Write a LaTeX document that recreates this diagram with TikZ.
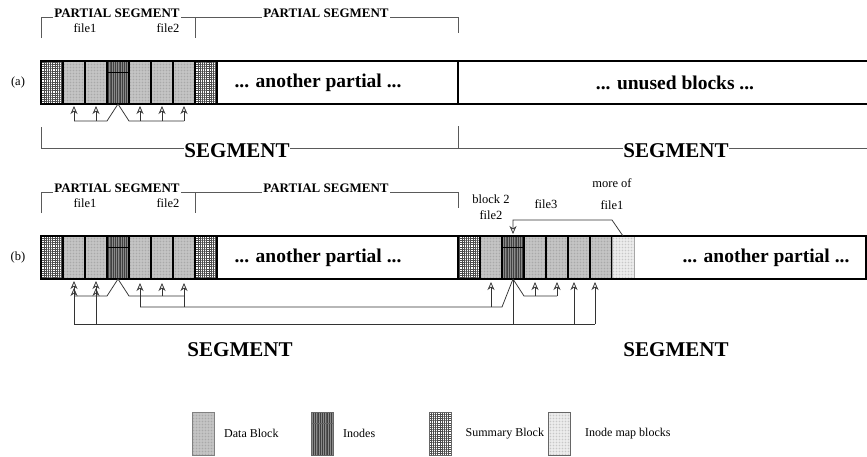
\documentclass[tikz,border=0pt]{standalone}
\usepackage{fontspec}
\setmainfont{Liberation Serif}
\usetikzlibrary{arrows.meta,positioning,patterns.meta,calc}
\definecolor{DataGray}{HTML}{C8C8C8}
\definecolor{InodeGray}{HTML}{8A8A8A}
\definecolor{MapGray}{HTML}{F2F2F2}
\definecolor{Wire}{HTML}{333333}
\definecolor{Bracket}{HTML}{5A5A5A}

\begin{document}
\begin{tikzpicture}[x=1pt,y=-1pt,
  blk/.style={draw,line width=1.2pt,minimum width=22pt,minimum height=43pt,inner sep=0pt,outer sep=0pt},
  datblk/.style={blk,preaction={fill=DataGray},pattern={Dots[distance=1.5pt,radius=0.4pt]},pattern color=black!40},
  inoblk/.style={blk,preaction={fill=InodeGray},pattern={Lines[angle=90,distance=1.8pt,line width=0.6pt]},pattern color=black!75,
    path picture={\draw[line width=0.6pt] ([yshift=-11pt]path picture bounding box.north west) -- ([yshift=-11pt]path picture bounding box.north east);}},
  sumblk/.style={blk,preaction={fill=white},pattern={Hatch[angle=0,distance=2.2pt,line width=0.8pt]},pattern color=black!70},
  mapblk/.style={blk,draw=black!35,line width=0.5pt,preaction={fill=MapGray},pattern={Dots[distance=1.5pt,radius=0.3pt]},pattern color=black!30},
  keyblk/.style={minimum width=20pt,minimum height=43pt,line width=0.6pt,draw=black!60},
  frame/.style={line width=2.6pt},
  ptr/.style={-{Stealth[open,length=8pt,width=7pt,inset=2.5pt]},line width=0.75pt,color=Wire},
  wire/.style={line width=0.75pt,color=Wire},
  brk/.style={line width=0.7pt,color=Bracket},
  ptxt/.style={font=\fontsize{13}{13}\selectfont\bfseries,fill=white,inner sep=1pt,anchor=base},
  ftxt/.style={font=\fontsize{12.5}{12.5}\selectfont},
  btxt/.style={font=\fontsize{19.5}{19.5}\selectfont\bfseries},
  stxt/.style={font=\fontsize{21}{21}\selectfont\bfseries,fill=white,inner sep=0pt},
  ltxt/.style={font=\fontsize{12}{12}\selectfont,inner sep=0pt,anchor=west}
]
\useasboundingbox (0,0) rectangle (867,456);

% ---- row (a)
\draw[brk] (41,38) |- (458,17) -- (458,33);
\draw[brk] (195,17) -- (195,38);
\node[ptxt] (psa1) at (117,17.5) {PARTIAL SEGMENT};
\node[ptxt] (psa2) at (326,17.5) {PARTIAL SEGMENT};
\node[ftxt] (fa1) at (85,28) {file1};
\node[ftxt] (fa2) at (168,28) {file2};
\node[ftxt] (taga) at (18,82) {(a)};

\coordinate (aL) at (41,61);
\node[sumblk,anchor=north west] (a1) at (aL) {};
\node[datblk,right=0pt of a1] (a2) {};
\node[datblk,right=0pt of a2] (a3) {};
\node[inoblk,right=0pt of a3] (a4) {};
\node[datblk,right=0pt of a4] (a5) {};
\node[datblk,right=0pt of a5] (a6) {};
\node[datblk,right=0pt of a6] (a7) {};
\node[sumblk,right=0pt of a7] (a8) {};
\draw[frame] (867,61) -| (41,104) -- (867,104);
\draw[frame] (458,61) -- (458,104);
\node[btxt] (anotha) at (318,83) {... another partial ...};
\node[btxt] (unused) at (675,83) {... unused blocks ...};

\coordinate (wa) at (0,121);
\draw[wire] (a2.south |- wa) -- (a4.south west |- wa) -- (a4.south) -- (a4.south east |- wa) -- (a7.south |- wa);
\draw[ptr] (a2.south |- wa) -- ([yshift=-2pt]a2.south);
\draw[ptr] (a3.south |- wa) -- ([yshift=-2pt]a3.south);
\draw[ptr] (a5.south |- wa) -- ([yshift=-2pt]a5.south);
\draw[ptr] (a6.south |- wa) -- ([yshift=-2pt]a6.south);
\draw[ptr] (a7.south |- wa) -- ([yshift=-2pt]a7.south);

\draw[brk] (41,127) -- (41,148) -- (867,148);
\draw[brk] (458,126) -- (458,148);
\node[stxt] (sega1) at (237,150.5) {SEGMENT};
\node[stxt] (sega2) at (676,150.5) {SEGMENT};

% ---- row (b)
\draw[brk] (41,213) |- (458,192) -- (458,208);
\draw[brk] (195,192) -- (195,213);
\node[ptxt] (psb1) at (117,192.5) {PARTIAL SEGMENT};
\node[ptxt] (psb2) at (326,192.5) {PARTIAL SEGMENT};
\node[ftxt] (fb1) at (85,203) {file1};
\node[ftxt] (fb2) at (168,203) {file2};
\node[ftxt] (tagb) at (18,257) {(b)};

\coordinate (bL) at (41,236);
\node[sumblk,anchor=north west] (b1) at (bL) {};
\node[datblk,right=0pt of b1] (b2) {};
\node[datblk,right=0pt of b2] (b3) {};
\node[inoblk,right=0pt of b3] (b4) {};
\node[datblk,right=0pt of b4] (b5) {};
\node[datblk,right=0pt of b5] (b6) {};
\node[datblk,right=0pt of b6] (b7) {};
\node[sumblk,right=0pt of b7] (b8) {};

\coordinate (cL) at (458,236);
\node[sumblk,anchor=north west] (c1) at (cL) {};
\node[datblk,right=0pt of c1] (c2) {};
\node[inoblk,right=0pt of c2] (c3) {};
\node[datblk,right=0pt of c3] (c4) {};
\node[datblk,right=0pt of c4] (c5) {};
\node[datblk,right=0pt of c5] (c6) {};
\node[datblk,right=0pt of c6] (c7) {};
\node[mapblk,right=0pt of c7] (c8) {};
\draw[frame] (41,236) rectangle (866,279);
\draw[frame] (458,236) -- (458,279);
\node[btxt] (anothb1) at (318,258) {... another partial ...};
\node[btxt] (anothb2) at (766,258) {... another partial ...};

\node[ftxt] (blk2) at (491,199) {block 2};
\node[ftxt] (fc2) at (491,215) {file2};
\node[ftxt] (fc3) at (546,204) {file3};
\node[ftxt] (more) at (612,183) {more of};
\node[ftxt] (fc1) at (612,205) {file1};

\coordinate (wb1) at (0,296);
\coordinate (wb2) at (0,307);
\coordinate (wb3) at (0,324);
\coordinate (wt) at (0,220);
\coordinate (f6) at ([xshift=-5pt]c6.south);
\coordinate (f7) at ([xshift=-6pt]c7.south);

\draw[wire] (b2.south |- wb1) -- (b4.south west |- wb1) -- (b4.south) -- (b4.south east |- wb1) -- (b7.south |- wb1);
\draw[wire] (b5.south |- wb2) -- (c3.south west |- wb2) -- (c3.south) -- (c3.south east |- wb1) -- (c5.south |- wb1);
\draw[wire] (c3.south) -- (c3.south |- wb3);
\draw[wire] (b2.south |- wb3) -- (f7 |- wb3);

\draw[ptr] (b2.south |- wb3) -- ([yshift=-2pt]b2.south);
\draw[ptr] (b3.south |- wb3) -- ([yshift=-2pt]b3.south);
\draw[ptr] (b2.south |- wb1) -- ([yshift=-9pt]b2.south);
\draw[ptr] (b3.south |- wb1) -- ([yshift=-9pt]b3.south);
\draw[ptr] (b5.south |- wb2) -- ([yshift=-4pt]b5.south);
\draw[ptr] (b6.south |- wb1) -- ([yshift=-4pt]b6.south);
\draw[ptr] (b7.south |- wb2) -- ([yshift=-4pt]b7.south);
\draw[ptr] (c2.south |- wb2) -- ([yshift=-3pt]c2.south);
\draw[ptr] (c4.south |- wb1) -- ([yshift=-3pt]c4.south);
\draw[ptr] (c5.south |- wb1) -- ([yshift=-3pt]c5.south);
\draw[ptr] (f6 |- wb3) -- ([yshift=-3pt]f6);
\draw[ptr] (f7 |- wb3) -- ([yshift=-3pt]f7);
\draw[ptr] (c8.north) -- (c8.north west |- wt) -- (c3.north |- wt) -- ([yshift=2pt]c3.north);

\node[stxt] (segb1) at (240,350) {SEGMENT};
\node[stxt] (segb2) at (676,350) {SEGMENT};

% ---- legend
\node[keyblk,datblk,draw=black!50,line width=0.6pt] (keyD) at (203,433.5) {};
\node[ltxt,right=10pt of keyD] (labD) {Data Block};
\node[keyblk,inoblk,draw=black!60,line width=0.6pt] (keyI) at (322,433.5) {};
\node[ltxt,right=10pt of keyI] (labI) {Inodes};
\node[keyblk,sumblk,draw=black!60,line width=0.6pt] (keyS) at (440.5,433.5) {};
\node[ltxt,right=14pt of keyS] (labS) {Summary Block};
\node[keyblk,mapblk,draw=black!60,line width=0.6pt] (keyM) at (559,433.5) {};
\node[ltxt,right=15pt of keyM] (labM) {Inode map blocks};
\end{tikzpicture}
\end{document}
